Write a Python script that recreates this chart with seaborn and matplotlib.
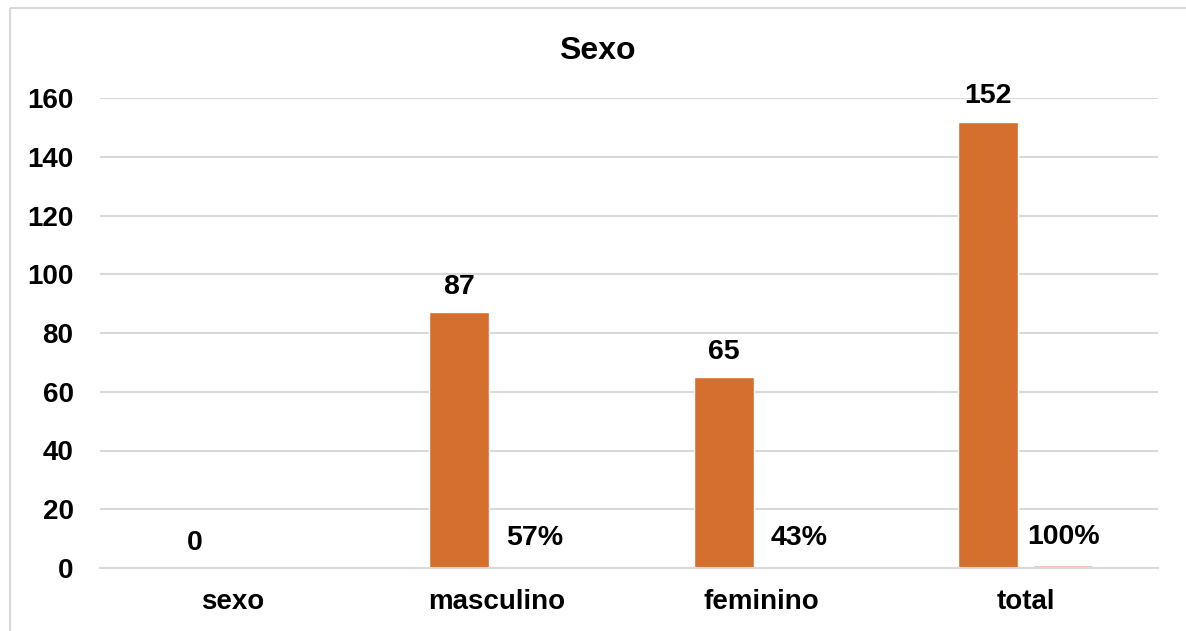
import numpy as np
import pandas as pd
import matplotlib
matplotlib.use("Agg")
import matplotlib.pyplot as plt
from matplotlib.lines import Line2D
import seaborn as sns

# Data
categorias = ["sexo", "masculino", "feminino", "total"]
frecuencia = [0, 87, 65, 152]
porcentaje = [np.nan, 0.57, 0.43, 1.00]
series = ["Frecuencia", "Porcentaje"]
y_ticks = [0, 20, 40, 60, 80, 100, 120, 140, 160]
titulo = "Sexo"

colores = {"Frecuencia": "#D46F2D", "Porcentaje": "#F3B9A2"}

df = pd.DataFrame({
    "categoria": categorias * 2,
    "serie": [series[0]] * len(categorias) + [series[1]] * len(categorias),
    "valor": frecuencia + porcentaje,
}).dropna()

sns.set_theme(style="white")
plt.rcParams["font.family"] = ["Liberation Sans", "DejaVu Sans"]
plt.rcParams["font.weight"] = "bold"

W, H = 1186, 631
fig = plt.figure(figsize=(W / 100, H / 100), dpi=100, facecolor="white",
                 edgecolor="white", linewidth=0)
ax = fig.add_axes([100 / W, 1 - 568 / H, 1058 / W, (568 - 98) / H])

sns.barplot(
    data=df, x="categoria", y="valor", hue="serie",
    order=categorias, hue_order=series, palette=colores,
    width=0.568, gap=0.2, saturation=1, legend=False, ax=ax,
)

ax.set_xlim(-0.5, len(categorias) - 0.5)
ax.set_ylim(0, 160)
ax.set_yticks(y_ticks)
ax.set_yticklabels([str(t) for t in y_ticks])
ax.set_xlabel("")
ax.set_ylabel("")

ax.yaxis.grid(True, color="#D9D9D9", linewidth=1.5)
ax.xaxis.grid(False)
ax.set_axisbelow(True)
for side in ["top", "right", "left"]:
    ax.spines[side].set_visible(False)
ax.spines["bottom"].set_color("#D9D9D9")
ax.spines["bottom"].set_linewidth(1.5)
ax.tick_params(axis="both", length=0, labelsize=20, colors="black")
ax.tick_params(axis="y", pad=19)
ax.tick_params(axis="x", pad=15)
for lbl in ax.get_xticklabels() + ax.get_yticklabels():
    lbl.set_fontweight("bold")

# Value labels
fmts = [lambda v: f"{v:.0f}", lambda v: f"{v:.0%}"]
pads = [9, 11]
for cont, fmt, pad in zip(ax.containers, fmts, pads):
    ax.bar_label(cont, labels=[fmt(v) for v in cont.datavalues],
                 padding=pad, fontsize=20.5, fontweight="bold", color="black")

fig.text(597 / W, 1 - 51 / H, titulo, ha="center", va="center",
         fontsize=23, fontweight="bold", color="black")

# Chart frame (top and left edges only)
x0, y0 = 9.5 / W, 1 - 7.5 / H
fig.add_artist(Line2D([x0, 1.0], [y0, y0], transform=fig.transFigure,
                      color="#D9D9D9", linewidth=1.5, solid_capstyle="butt"))
fig.add_artist(Line2D([x0, x0], [0.0, y0], transform=fig.transFigure,
                      color="#D9D9D9", linewidth=1.5, solid_capstyle="butt"))

fig.savefig("out.png", dpi=100, facecolor="white", edgecolor="none")
